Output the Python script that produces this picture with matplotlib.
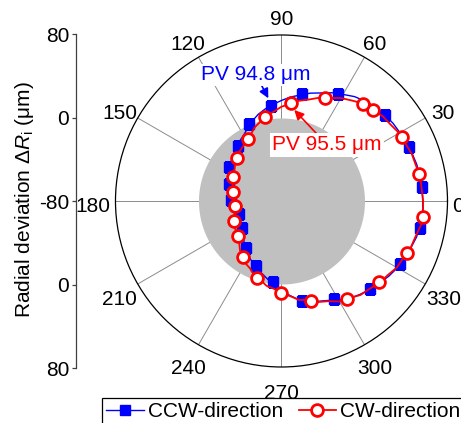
import numpy as np
import matplotlib
matplotlib.use("Agg")
import matplotlib.pyplot as plt
from matplotlib.lines import Line2D
from matplotlib.transforms import offset_copy

plt.rcParams['font.family'] = ['Liberation Sans', 'DejaVu Sans']
plt.rcParams['mathtext.fontset'] = 'custom'
plt.rcParams['mathtext.rm'] = 'Liberation Sans'
plt.rcParams['mathtext.it'] = 'Liberation Sans:italic'

# measured profile, one value every 5 deg (um)
angle_deg = np.arange(0, 360, 5)
cw_dev = [56.5, 55.6, 55.6, 54.0, 53.5, 51.6, 50.9, 48.4, 47.2, 44.5, 42.6, 38.2,
          34.6, 29.5, 25.9, 21.2, 18.1, 13.8, 10.9, 6.4, 3.6, -0.9, -4.5, -9.6,
          -12.5, -15.6, -17.2, -20.6, -22.0, -24.9, -26.3, -28.9, -29.8, -32.0, -32.4, -34.1,
          -33.9, -35.1, -33.8, -33.4, -31.1, -30.5, -28.0, -27.5, -24.4, -22.4, -17.8, -15.6,
          -10.6, -8.3, -3.4, -1.3, 3.0, 4.9, 9.5, 11.9, 16.8, 18.8, 23.6, 26.6,
          31.8, 34.2, 38.3, 39.8, 43.1, 44.8, 48.3, 49.6, 52.4, 53.6, 56.3, 56.9]
ccw_dev = [56.1, 56.2, 54.9, 55.1, 54.0, 53.2, 51.8, 51.0, 49.3, 48.1, 45.6, 42.8,
           38.6, 35.1, 30.8, 27.6, 23.7, 20.6, 16.9, 13.4, 10.1, 6.5, 2.1, -2.6,
           -6.9, -9.6, -12.7, -15.0, -17.6, -19.4, -21.9, -23.8, -26.3, -27.5, -29.6, -30.4,
           -32.1, -33.6, -35.3, -36.9, -36.6, -36.2, -35.1, -33.9, -31.8, -28.3, -24.6, -20.9,
           -17.4, -14.6, -10.9, -7.6, -3.4, 0.3, 6.1, 11.4, 16.7, 19.9, 22.9, 25.8,
           30.2, 34.6, 37.6, 40.7, 43.2, 46.3, 48.9, 50.9, 52.6, 54.7, 55.9, 56.8]

# marker samples
cw_mark_deg = [353.7, 11.0, 28.1, 44.9, 50.2, 67.1, 84.6, 101.1, 118.0, 135.7, 153.4,
               169.3, 186.4, 203.2, 218.8, 235.7, 252.5, 269.5, 286.5, 303.5, 320.2, 337.3]
cw_mark_dev = [57.5, 55.0, 51.3, 44.9, 42.3, 27.9, 14.4, 2.6, -11.8, -20.5, -28.0,
               -32.7, -34.9, -30.6, -25.8, -14.7, -2.3, 8.6, 20.4, 33.7, 42.7, 50.9]
ccw_mark_deg = [5.7, 22.8, 39.7, 62.1, 79.4, 96.3, 113.2, 128.6, 147.3, 162.2, 179.1,
                197.0, 215.0, 232.8, 248.4, 264.1, 281.4, 298.1, 315.3, 331.8, 348.8]
ccw_mark_dev = [55.8, 53.8, 49.5, 37.2, 25.0, 12.5, 0.5, -12.3, -20.0, -26.8, -31.0,
                -37.5, -34.1, -23.0, -13.0, -1.5, 18.2, 27.6, 40.0, 49.5, 56.1]

theta_labels = [0, 30, 60, 90, 120, 150, 180, 210, 240, 270, 300, 330]
r_ticks = [80, 0, -80, 0, 80]
pv_ccw = 94.8
pv_cw = 95.5

FS = 15

fig = plt.figure(figsize=(4.61, 4.23), dpi=100)
ax = fig.add_axes([0.2505, 0.1324, 0.7202, 0.7849], projection='polar')
ax.set_ylim(-80, 80)
ax.set_yticks([])
ax.set_xticks(np.radians(theta_labels))
ax.set_xticklabels([])
ax.set_axisbelow(True)
ax.xaxis.grid(True, color='#8c8c8c', lw=0.7)
ax.spines['polar'].set_linewidth(0.9)

# reference disk (r <= 0)
tt = np.linspace(0, 2 * np.pi, 361)
ax.fill_between(tt, -80, 0, color='#c0c0c0', lw=0, zorder=1)


def closed(deg, vals):
    th = np.radians(np.append(deg, deg[0]))
    return th, np.append(vals, vals[0])


th, r = closed(angle_deg, ccw_dev)
ax.plot(th, r, color='blue', lw=1.0, zorder=3)
ax.plot(np.radians(ccw_mark_deg), ccw_mark_dev, ls='none', marker='s', ms=7.5,
        color='blue', zorder=3)
th, r = closed(angle_deg, cw_dev)
ax.plot(th, r, color='red', lw=1.3, zorder=4)
ax.plot(np.radians(cw_mark_deg), cw_mark_dev, ls='none', marker='o', ms=8.5,
        mfc='white', mec='red', mew=2.0, zorder=4)

# angle labels around the rim
lab_tr = offset_copy(ax.transData, fig=fig, x=0, y=-5.5, units='dots')
for a in theta_labels:
    if a == 0:
        ax.text(np.radians(a), 84.8, str(a), ha='left', va='center', fontsize=FS,
                transform=lab_tr, clip_on=False)
    elif a == 180:
        ax.text(np.radians(a), 84.8, str(a), ha='right', va='center', fontsize=FS,
                transform=lab_tr, clip_on=False)
    else:
        ax.text(np.radians(a), 100.2, str(a), ha='center', va='center', fontsize=FS,
                transform=lab_tr, clip_on=False)

arrow_kw = dict(arrowstyle='-|>', lw=1.2, mutation_scale=14, shrinkA=0, shrinkB=0)
ax.annotate(f'PV {pv_ccw} μm', xy=(np.radians(97.3), 19.8),
            xytext=(np.radians(101.4), 44.0), textcoords='data',
            ha='center', va='center', fontsize=FS, color='blue', zorder=6,
            bbox=dict(facecolor='white', edgecolor='none', pad=1),
            arrowprops=dict(color='blue', **arrow_kw))
ax.annotate(f'PV {pv_cw} μm', xy=(np.radians(82.0), 8.6),
            xytext=(np.radians(50.8), -10.3), textcoords='data',
            ha='center', va='center', fontsize=FS, color='red', zorder=6,
            bbox=dict(facecolor='white', edgecolor='none', pad=1.5),
            arrowprops=dict(color='red', **arrow_kw))

# linear scale along the diameter on the left
ax2 = fig.add_axes([0.1649, 0.1300, 0.0001, 0.7896])
ax2.set_ylim(-160, 160)
ax2.set_yticks([160, 80, 0, -80, -160])
ax2.set_yticklabels([str(v) for v in r_ticks], fontsize=FS)
ax2.set_xticks([])
for s in ['top', 'right', 'bottom']:
    ax2.spines[s].set_visible(False)
ax2.spines['left'].set_color('#404040')
ax2.spines['left'].set_linewidth(0.9)
ax2.tick_params(axis='y', length=3, width=0.9, color='#404040', pad=2)
ax2.patch.set_visible(False)
fig.text(25 / 461, 1 - 200 / 423, r'Radial deviation $\Delta\mathit{R}_\mathrm{i}$ (μm)',
         rotation=90, ha='center', va='center', fontsize=FS)

handles = [Line2D([], [], color='blue', lw=1.0, marker='s', ms=7.5),
           Line2D([], [], color='red', lw=1.3, marker='o', ms=8.5, mfc='white',
                  mec='red', mew=2.0)]
leg = fig.legend(handles, ['CCW-direction', 'CW-direction'], loc='upper left',
                 bbox_to_anchor=(102 / 461, 1 - 398 / 423), ncol=2, fontsize=FS,
                 frameon=True, fancybox=False, edgecolor='black', framealpha=1,
                 borderaxespad=0, borderpad=0.2, handlelength=1.8, handletextpad=0.2,
                 columnspacing=0.75)
leg.get_frame().set_linewidth(0.9)

fig.savefig('out.png', dpi=100)
